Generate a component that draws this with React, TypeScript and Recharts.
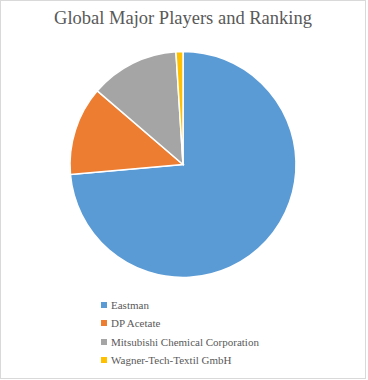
import React from "react";
import { PieChart, Pie, Cell, Legend } from "recharts";

const players = ["Eastman", "DP Acetate", "Mitsubishi Chemical Corporation", "Wagner-Tech-Textil GmbH"];
const shares = [73.6, 12.7, 12.7, 1.0];
const colors = ["#5B9BD5", "#ED7D31", "#A5A5A5", "#FFC000"];

const data = players.map((name, i) => ({ name, value: shares[i] }));

const SERIF = "'Liberation Serif', 'DejaVu Serif', serif";

const LegendContent = () => (
  <div style={{ fontFamily: SERIF, fontSize: 11, color: "#595959", lineHeight: "18.3px" }}>
    {players.map((p, i) => (
      <div key={p} style={{ display: "flex", alignItems: "center", height: 18.3 }}>
        <span style={{ display: "inline-block", width: 6, height: 6, background: colors[i], marginRight: 4 }} />
        <span style={{ fontFamily: SERIF }}>{p}</span>
      </div>
    ))}
  </div>
);

export default function App() {
  return (
    <div style={{ position: "absolute", left: 0, top: 0, width: 368, height: 380, background: "#fff" }}>
      <div
        style={{
          position: "absolute",
          left: 0,
          top: 0,
          width: 364,
          height: 377,
          border: "1px solid #D9D9D9",
        }}
      />
      <div
        style={{
          position: "absolute",
          left: 0,
          top: 8,
          width: 366,
          textAlign: "center",
          fontFamily: SERIF,
          fontSize: 18.5,
          color: "#595959",
        }}
      >
        Global Major Players and Ranking
      </div>
      <div style={{ position: "absolute", left: 0, top: 0 }}>
        <PieChart width={366} height={379} margin={{ top: 0, right: 0, bottom: 0, left: 0 }}>
          <Pie
            data={data}
            dataKey="value"
            nameKey="name"
            cx={183}
            cy={164.5}
            outerRadius={113}
            startAngle={90}
            endAngle={-270}
            stroke="#FFFFFF"
            strokeWidth={1.5}
            isAnimationActive={false}
            labelLine={false}
          >
            {data.map((d, i) => (
              <Cell key={d.name} fill={colors[i]} />
            ))}
          </Pie>
          <Legend
            content={<LegendContent />}
            wrapperStyle={{ position: "absolute", left: 101, top: 296, width: 240 }}
          />
        </PieChart>
      </div>
    </div>
  );
}
